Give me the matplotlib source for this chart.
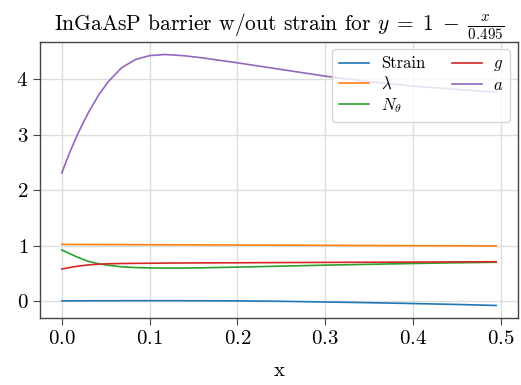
import matplotlib
matplotlib.use("Agg")
import matplotlib.pyplot as plt

plt.rcParams.update({
    "font.family": "serif",
    "font.serif": ["cmr10"],
    "mathtext.fontset": "cm",
    "axes.formatter.use_mathtext": True,
    "axes.unicode_minus": True,
})

# Composition fraction x and the computed quantities
x = [0.0, 0.005, 0.01, 0.0177, 0.025, 0.031, 0.042, 0.053, 0.068, 0.084,
     0.1, 0.117, 0.138, 0.16, 0.2, 0.25, 0.3, 0.35, 0.4, 0.45, 0.495]
strain = [0.0, 0.0005, 0.001, 0.001, 0.0015, 0.002, 0.002, 0.0025, 0.003,
          0.003, 0.003, 0.003, 0.003, 0.002, 0.0, -0.008, -0.02, -0.033,
          -0.048, -0.065, -0.083]
lam = [1.020, 1.0197, 1.0194, 1.019, 1.0186, 1.0182, 1.0176, 1.017, 1.0161,
       1.0152, 1.0143, 1.0133, 1.0121, 1.0109, 1.0086, 1.0058, 1.0029,
       1.0001, 0.9972, 0.9944, 0.9918]
n_theta = [0.92, 0.88, 0.845, 0.79, 0.745, 0.71, 0.67, 0.643, 0.615, 0.602,
           0.595, 0.592, 0.593, 0.597, 0.61, 0.627, 0.645, 0.66, 0.675,
           0.688, 0.697]
g = [0.575, 0.59, 0.605, 0.625, 0.64, 0.65, 0.662, 0.67, 0.675, 0.678,
     0.68, 0.682, 0.685, 0.686, 0.688, 0.692, 0.695, 0.698, 0.70, 0.704,
     0.707]
a = [2.31, 2.52, 2.72, 3.0, 3.24, 3.42, 3.72, 3.96, 4.21, 4.36, 4.43, 4.45,
     4.43, 4.39, 4.30, 4.18, 4.06, 3.96, 3.88, 3.82, 3.77]

series = [
    (strain, "Strain", "tab:blue"),
    (lam, r"$\lambda$", "tab:orange"),
    (n_theta, r"$N_\theta$", "tab:green"),
    (g, r"$g$", "tab:red"),
    (a, r"$a$", "tab:purple"),
]

fig = plt.figure(figsize=(5.21, 3.85), dpi=100)
ax = fig.add_axes([0.077, 0.174, 0.917, 0.717])

for ys, label, color in series:
    ax.plot(x, ys, color=color, lw=1.2, label=label)

ax.grid(True, color="#dddddd", lw=1.0)
ax.set_axisbelow(True)
for s in ax.spines.values():
    s.set_color("#444444")
    s.set_linewidth(1.0)
ax.tick_params(axis="both", labelsize=15, length=5, color="#444444")
ax.set_xticks([0.0, 0.1, 0.2, 0.3, 0.4, 0.5])
ax.set_xlabel("x", fontsize=15, labelpad=10)
ax.set_title(r"InGaAsP barrier w/out strain for "
             r"$y\;=\;1\;-\;\frac{x}{0.495}$",
             fontsize=15.5, pad=7)
ax.legend(ncol=2, loc="upper right", fontsize=12, framealpha=0.8,
          edgecolor="#cccccc", handlelength=1.8, columnspacing=1.6,
          handletextpad=0.7, labelspacing=0.25, borderaxespad=0.45)

fig.savefig("out.png", dpi=100)
